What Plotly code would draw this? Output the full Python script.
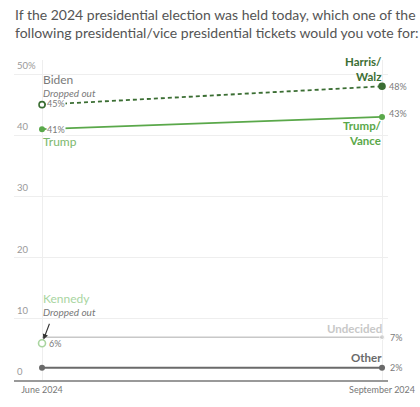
import plotly.graph_objects as go

months = ["June 2024", "September 2024"]
harris = [45, 48]      # Biden in June, Harris/Walz in September
trump = [41, 43]
kennedy = [6, None]
undecided = [7, 7]
other = [2, 2]
y_ticks = [0, 10, 20, 30, 40, 50]
y_tick_labels = ["0", "10", "20", "30", "40", "50%"]

DARK_GREEN = "#3b6e33"
GREEN = "#5aa84a"
LIGHT_GREEN = "#a9d59f"
LIGHT_GRAY = "#c8c8c8"
DARK_GRAY = "#6a6a6a"
TEXT_GRAY = "#7a7a7a"
FONT = "Lato"

fig = go.Figure()

fig.add_trace(go.Scatter(
    x=months, y=harris, mode="lines+markers",
    line=dict(color=DARK_GREEN, width=1.8, dash="4px,3px"),
    marker=dict(size=6, color=["white", DARK_GREEN], line=dict(color=DARK_GREEN, width=1.6)),
    cliponaxis=False, hoverinfo="skip"))
fig.add_trace(go.Scatter(
    x=months, y=trump, mode="lines+markers",
    line=dict(color=GREEN, width=1.8),
    marker=dict(size=6, color=GREEN),
    cliponaxis=False, hoverinfo="skip"))
fig.add_trace(go.Scatter(
    x=months, y=undecided, mode="lines+markers",
    line=dict(color=LIGHT_GRAY, width=1.5),
    marker=dict(size=[0, 5], color=LIGHT_GRAY),
    cliponaxis=False, hoverinfo="skip"))
fig.add_trace(go.Scatter(
    x=months, y=other, mode="lines+markers",
    line=dict(color=DARK_GRAY, width=2.2),
    marker=dict(size=6, color=DARK_GRAY),
    cliponaxis=False, hoverinfo="skip"))
fig.add_trace(go.Scatter(
    x=months, y=kennedy, mode="markers",
    marker=dict(size=7, color="white", line=dict(color=LIGHT_GREEN, width=1.6)),
    cliponaxis=False, hoverinfo="skip"))

ann = []
def lab(x, y, text, color, size, xanchor="left", xshift=0, yshift=0,
        bold=False, italic=False, bg=None, align="left"):
    t = text
    if bold:
        t = f"<b>{t}</b>"
    if italic:
        t = f"<i>{t}</i>"
    d = dict(x=x, y=y, xref="x", yref="y", text=t, showarrow=False,
             xanchor=xanchor, yanchor="middle", xshift=xshift, yshift=yshift,
             align=align, borderpad=0,
             font=dict(family=FONT, size=size, color=color))
    if bg:
        d["bgcolor"] = bg
    ann.append(d)

J, S = months
# value labels
lab(J, harris[0], f"{harris[0]}%", TEXT_GRAY, 9, xshift=4, yshift=1, bg="white")
lab(J, trump[0], f"{trump[0]}%", TEXT_GRAY, 9, xshift=4, bg="white")
lab(J, kennedy[0], f"{kennedy[0]}%", TEXT_GRAY, 9, xshift=6)
lab(S, harris[1], f"{harris[1]}%", TEXT_GRAY, 9, xshift=6)
lab(S, trump[1], f"{trump[1]}%", TEXT_GRAY, 9, xshift=6, yshift=3)
lab(S, undecided[1], f"{undecided[1]}%", TEXT_GRAY, 9, xshift=7)
lab(S, other[1], f"{other[1]}%", TEXT_GRAY, 9, xshift=7)

# series labels
lab(J, harris[0], "Biden", TEXT_GRAY, 12, yshift=25)
lab(J, harris[0], "Dropped out", TEXT_GRAY, 10, yshift=12, italic=True)
lab(J, trump[0], "Trump", "#7cb86c", 12, yshift=-12)
lab(J, kennedy[0], "Kennedy", LIGHT_GREEN, 12, yshift=45)
lab(J, kennedy[0], "Dropped out", "#777", 10, yshift=31, italic=True)
lab(S, harris[1], "<b>Harris/<br>Walz</b>", DARK_GREEN, 11.5, xanchor="right", xshift=1,
    yshift=17.5, align="right")
lab(S, trump[1], "<b>Trump/<br>Vance</b>", GREEN, 11.5, xanchor="right", xshift=1,
    yshift=-16.5, align="right")
lab(S, undecided[1], "Undecided", LIGHT_GRAY, 11.5, xanchor="right", xshift=1, yshift=9, bold=True)
lab(S, other[1], "Other", DARK_GRAY, 11.5, xanchor="right", xshift=1, yshift=10, bold=True)

# Kennedy arrow
ann.append(dict(x=J, y=kennedy[0], xref="x", yref="y", text="", showarrow=True,
                ax=8, ay=-21, arrowhead=2, arrowsize=1, arrowwidth=1.1,
                arrowcolor="#333", standoff=4))

# y tick labels
for v, t in zip(y_ticks, y_tick_labels):
    ann.append(dict(x=0, y=v, xref="paper", yref="y", text=t, showarrow=False,
                    xanchor="left", yanchor="bottom", xshift=1, yshift=1,
                    font=dict(family=FONT, size=9.5, color="#999")))

# title
ann.append(dict(x=0, y=1, xref="paper", yref="paper", xanchor="left", yanchor="top",
                xshift=-1, yshift=56, showarrow=False, align="left",
                text="If the 2024 presidential election was held today, which one of the<br>"
                     "following presidential/vice presidential tickets would you vote for:",
                font=dict(family="Lato", size=14, color="#555")))

fig.update_layout(
    width=420, height=407,
    margin=dict(l=14, r=32, t=60, b=27),
    paper_bgcolor="white", plot_bgcolor="white",
    showlegend=False,
    annotations=ann,
    xaxis=dict(type="category", range=[-0.0824, 1.0176], showgrid=True, gridcolor="#eeeeee",
               showline=True, linecolor="#999", linewidth=1.5, ticks="", automargin=False,
               tickfont=dict(family=FONT, size=9, color="#777"), fixedrange=True),
    yaxis=dict(range=[0, 52.3], tickvals=y_ticks[1:], showticklabels=False, showgrid=True,
               gridcolor="#eeeeee", zeroline=False, showline=False, automargin=False,
               fixedrange=True),
)

fig.write_html("out.html", config={"displayModeBar": False},
               post_script="document.body.style.margin='0';")
